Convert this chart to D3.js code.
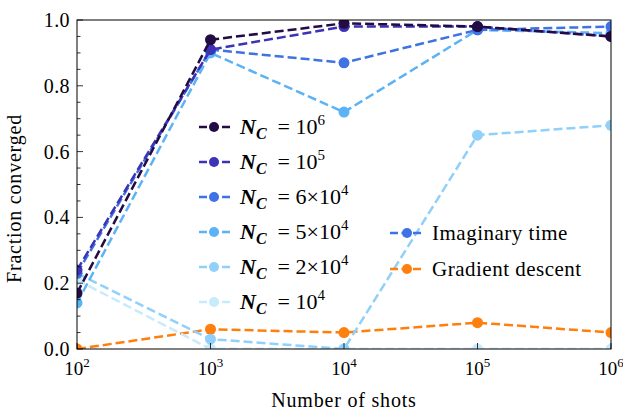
<!DOCTYPE html>
<html>
<head>
<meta charset="utf-8">
<script src="https://cdn.jsdelivr.net/npm/d3@7"></script>
<style>
  body { margin: 0; background: #fff; }
  svg text { font-family: "Liberation Serif", "DejaVu Serif", serif; fill: #000; }
</style>
</head>
<body>
<svg id="chart" width="623" height="413"></svg>
<script>
// shots (x axis, log)
const shots = [1e2, 1e3, 1e4, 1e5, 1e6];

// fraction converged per series
const nc1e6 = [0.17, 0.94, 0.99, 0.98, 0.95];
const nc1e5 = [0.24, 0.91, 0.98, 0.98, 0.95];
const nc6e4 = [0.23, 0.91, 0.87, 0.97, 0.98];
const nc5e4 = [0.14, 0.90, 0.72, 0.97, 0.96];
const nc2e4 = [0.23, 0.03, 0.00, 0.65, 0.68];
const nc1e4 = [0.21, 0.00, 0.00, 0.00, 0.00];
const gradDescent = [0.00, 0.06, 0.05, 0.08, 0.05];

const seriesColors = ["#230b44", "#3d33b6", "#3f72e2", "#5bb3f6", "#90d0fa", "#c8ebfc", "#ff7f0e"];
// legend labels: [mantissa, exponent]
const ncLabels = [["", "6"], ["", "5"], ["6\u00d7", "4"], ["5\u00d7", "4"], ["2\u00d7", "4"], ["", "4"]];
const methodLabels = ["Imaginary time", "Gradient descent"];
const methodColors = ["#3f72e2", "#ff7f0e"];

const yTicks = [0, 0.2, 0.4, 0.6, 0.8, 1.0];

const allSeries = [nc1e6, nc1e5, nc6e4, nc5e4, nc2e4, nc1e4, gradDescent];

const svg = d3.select("#chart");
const margin = { left: 77, right: 12, top: 20, bottom: 64 };
const width = 623 - margin.left - margin.right;
const height = 413 - margin.top - margin.bottom;

const x = d3.scaleLog().domain([1e2, 1e6]).range([0, width]);
const y = d3.scaleLinear().domain([0, 1]).range([height, 0]);

const g = svg.append("g").attr("transform", `translate(${margin.left},${margin.top})`);

svg.append("defs").append("clipPath").attr("id", "plotclip")
  .append("rect").attr("width", width).attr("height", height);

// series
const line = d3.line().x((d, i) => x(shots[i])).y(d => y(d));
const plot = g.append("g").attr("clip-path", "url(#plotclip)");

// draw order: lighter series behind darker ones
const order = [6, 5, 4, 3, 2, 1, 0];
order.forEach(k => {
  const vals = allSeries[k];
  const c = seriesColors[k];
  plot.append("path")
    .datum(vals)
    .attr("d", line)
    .attr("fill", "none")
    .attr("stroke", c)
    .attr("stroke-width", 2.5)
    .attr("stroke-dasharray", "9,4");
  plot.selectAll(null)
    .data(vals)
    .enter()
    .append("circle")
    .attr("cx", (d, i) => x(shots[i]))
    .attr("cy", d => y(d))
    .attr("r", 5.5)
    .attr("fill", c);
});

// frame
g.append("rect").attr("width", width).attr("height", height)
  .attr("fill", "none").attr("stroke", "#000").attr("stroke-width", 1);

// y ticks (inward) + minor
const yMinor = d3.range(0, 1.0001, 0.05);
g.selectAll(".ymin").data(yMinor).enter().append("line")
  .attr("x1", 0).attr("x2", d => (Math.abs(d * 5 - Math.round(d * 5)) < 1e-6 ? 6 : 3.5))
  .attr("y1", d => y(d)).attr("y2", d => y(d))
  .attr("stroke", "#000").attr("stroke-width", 0.8);

g.selectAll(".ylab").data(yTicks).enter().append("text")
  .attr("x", -7).attr("y", d => y(d)).attr("dy", "0.35em")
  .attr("text-anchor", "end").attr("font-size", 20).attr("letter-spacing", 0.4)
  .text(d => d.toFixed(1));

// x ticks (inward)
g.selectAll(".xt").data(shots).enter().append("line")
  .attr("x1", d => x(d)).attr("x2", d => x(d))
  .attr("y1", height).attr("y2", height - 6)
  .attr("stroke", "#000").attr("stroke-width", 0.8);

const xl = g.selectAll(".xlab").data(shots).enter().append("text")
  .attr("x", d => x(d)).attr("y", height + 26)
  .attr("text-anchor", "middle").attr("font-size", 19);
xl.append("tspan").text("10");
xl.append("tspan").attr("dy", -8).attr("font-size", 13).text(d => Math.round(Math.log10(d)));

// axis titles
g.append("text").attr("x", width / 2).attr("y", height + 58)
  .attr("text-anchor", "middle").attr("font-size", 20).attr("letter-spacing", 0.8)
  .text("Number of shots");
g.append("text").attr("transform", `translate(${-56},${height / 2 + 14}) rotate(-90)`)
  .attr("text-anchor", "middle").attr("font-size", 20).attr("letter-spacing", 0.8)
  .text("Fraction converged");

// legend 1: N_C
const leg1 = g.append("g").attr("transform", `translate(${199 - margin.left},${127 - margin.top})`);
ncLabels.forEach((lab, i) => {
  const row = leg1.append("g").attr("transform", `translate(0,${i * 35})`);
  const c = seriesColors[i];
  row.append("line").attr("x1", 0).attr("x2", 31).attr("y1", 0).attr("y2", 0)
    .attr("stroke", c).attr("stroke-width", 2.5).attr("stroke-dasharray", "8,3.5");
  row.append("circle").attr("cx", 15).attr("cy", 0).attr("r", 5).attr("fill", c);
  const t = row.append("text").attr("x", 41).attr("y", 7).attr("font-size", 22);
  t.append("tspan").attr("font-weight", "bold").attr("font-style", "italic").text("N");
  t.append("tspan").attr("font-weight", "bold").attr("font-style", "italic")
    .attr("font-size", 16).attr("dy", 5).text("C");
  t.append("tspan").attr("dy", -5).text("\u2002= " + lab[0] + "10");
  t.append("tspan").attr("dy", -9).attr("font-size", 15).text(lab[1]);
});

// legend 2: methods
const leg2 = g.append("g").attr("transform", `translate(${390 - margin.left},${233 - margin.top})`);
methodLabels.forEach((lab, i) => {
  const row = leg2.append("g").attr("transform", `translate(0,${i * 36})`);
  row.append("line").attr("x1", 0).attr("x2", 33).attr("y1", 0).attr("y2", 0)
    .attr("stroke", methodColors[i]).attr("stroke-width", 2.5).attr("stroke-dasharray", "8,3.5");
  row.append("circle").attr("cx", 17).attr("cy", 0).attr("r", 5).attr("fill", methodColors[i]);
  row.append("text").attr("x", 42).attr("y", 7).attr("font-size", 21).attr("letter-spacing", 0.5).text(lab);
});
</script>
</body>
</html>
